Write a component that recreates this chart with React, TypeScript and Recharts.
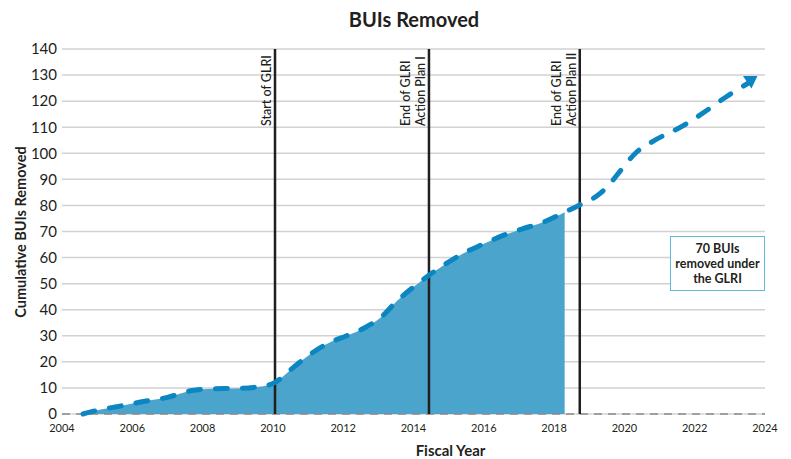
import React from "react";
import {
  ComposedChart,
  Area,
  Line,
  XAxis,
  YAxis,
  CartesianGrid,
  ReferenceLine,
} from "recharts";

// ---- data ----
const years = [
  2004.6, 2005.1, 2005.6, 2006.2, 2007.0, 2007.7, 2008.3, 2008.9, 2009.45, 2010.0,
  2010.55, 2011.05, 2011.6, 2012.1, 2012.6, 2013.05, 2013.55, 2014.0, 2014.42, 2014.85,
  2015.4, 2016.0, 2016.55, 2017.1, 2017.7, 2018.3, 2018.7, 2019.3, 2019.6, 2019.9,
  2020.35, 2020.8, 2021.7, 2022.35, 2022.9, 2023.6,
];
const cumulativeBUIs = [
  0, 1.7, 2.9, 4.5, 6.4, 9.0, 9.7, 9.8, 10.2, 11.7,
  17.5, 22.8, 27.3, 30, 33, 36.8, 43.6, 48.7, 53, 57,
  61.5, 65.3, 68.5, 71, 73.6, 77.4, 80, 84.5, 88.5, 93.5,
  100.5, 104.5, 110.8, 116.5, 121.7, 127.5,
];
const lastReportedYear = 2018.3;

const milestoneYears = [2010.06, 2014.44, 2018.73];
const milestoneLabels = [
  ["Start of GLRI"],
  ["End of GLRI", "Action Plan I"],
  ["End of GLRI", "Action Plan II"],
];

const xTicks = [2004, 2006, 2008, 2010, 2012, 2014, 2016, 2018, 2020, 2022, 2024];
const yTicks = [0, 10, 20, 30, 40, 50, 60, 70, 80, 90, 100, 110, 120, 130, 140];

const titleText = "BUIs Removed";
const xLabel = "Fiscal Year";
const yLabel = "Cumulative BUIs Removed";
const noteLines = ["70 BUIs", "removed under", "the GLRI"];

// ---- derived tables ----
const lineData = years.map((y, i) => ({ year: y, value: cumulativeBUIs[i] }));
const areaData = lineData.filter((d) => d.year <= lastReportedYear);

const FONT = "Lato, 'Open Sans', sans-serif";
const TEXT = "#231f20";
const LINE = "#0b86c2";
const FILL = "#4ba4cc";

const renderDot = (p: any) => {
  if (p.index !== years.length - 1) return <g key={`d${p.index}`} />;
  const { cx, cy } = p;
  return (
    <polygon
      key="tri"
      points={`${cx - 8},${cy - 5.5} ${cx + 6.5},${cy - 5.5} ${cx + 0.5},${cy + 7}`}
      fill={LINE}
    />
  );
};

const milestoneLabel = (lines: string[]) => (props: any) => {
  const vb = props.viewBox || {};
  const lx = vb.x;
  const by = vb.y + 77;
  return (
    <g>
      {lines.map((t, i) => {
        const bx = lx - 4 - (lines.length - 1 - i) * 14.5;
        return (
          <text
            key={i}
            x={bx}
            y={by}
            transform={`rotate(-90 ${bx} ${by})`}
            textAnchor="start"
            fontSize={12.5}
            fontWeight={500}
            fontFamily={FONT}
            fill={TEXT}
          >
            {t}
          </text>
        );
      })}
    </g>
  );
};

const xAxisLabel = (props: any) => {
  const vb = props.viewBox || {};
  return (
    <text
      x={vb.x + vb.width / 2 + 37}
      y={456}
      textAnchor="middle"
      fontSize={15}
      fontWeight={700}
      fontFamily={FONT}
      fill={TEXT}
    >
      {xLabel}
    </text>
  );
};

const yAxisLabel = () => {
  const cy = 232;
  const bx = 26;
  return (
    <text
      x={bx}
      y={cy}
      transform={`rotate(-90 ${bx} ${cy})`}
      textAnchor="middle"
      fontSize={14.5}
      fontWeight={700}
      fontFamily={FONT}
      fill={TEXT}
    >
      {yLabel}
    </text>
  );
};

export default function App() {
  return (
    <div
      style={{
        position: "absolute",
        left: 0,
        top: 0,
        width: 791,
        height: 459,
        background: "#fff",
        fontFamily: FONT,
      }}
    >
      <div
        style={{
          position: "absolute",
          left: 0,
          top: 7,
          width: 828,
          textAlign: "center",
          fontSize: 20,
          fontWeight: 700,
          color: TEXT,
          fontFamily: FONT,
        }}
      >
        {titleText}
      </div>
      <ComposedChart
        width={791}
        height={459}
        margin={{ top: 49, right: 26, bottom: 15, left: 0 }}
      >
        <CartesianGrid
          vertical={false}
          stroke="#d2d2d2"
          strokeWidth={1.5}
        />
        <XAxis
          dataKey="year"
          type="number"
          domain={[2004, 2024]}
          ticks={xTicks}
          allowDataOverflow
          axisLine={false}
          tickLine={false}
          tickSize={4}
          tickMargin={6}
          height={30}
          tick={{ fontSize: 11, fill: TEXT, fontFamily: FONT }}
          label={{ content: xAxisLabel }}
        />
        <YAxis
          type="number"
          domain={[0, 140]}
          ticks={yTicks}
          interval={0}
          axisLine={false}
          tickLine={false}
          tickSize={3}
          tickMargin={2}
          width={62}
          tick={{ fontSize: 15, fill: TEXT, fontFamily: FONT }}
          label={{ content: yAxisLabel }}
        />
        <Area
          data={areaData}
          dataKey="value"
          type="monotone"
          stroke="none"
          fill={FILL}
          fillOpacity={1}
          isAnimationActive={false}
        />
        <ReferenceLine
          y={0}
          stroke="#8a8a8a"
          strokeWidth={1.5}
          strokeDasharray="8 6"
        />
        {milestoneYears.map((yr, i) => (
          <ReferenceLine
            key={yr}
            x={yr}
            stroke="#231f20"
            strokeWidth={2.5}
            label={{ content: milestoneLabel(milestoneLabels[i]) }}
          />
        ))}
        <Line
          data={lineData}
          dataKey="value"
          type="monotone"
          stroke={LINE}
          strokeWidth={5}
          strokeDasharray="12 15"
          strokeLinecap="round"
          dot={renderDot}
          activeDot={false}
          isAnimationActive={false}
        />
      </ComposedChart>
      <div
        style={{
          position: "absolute",
          left: 670,
          top: 236,
          width: 95,
          height: 55,
          boxSizing: "border-box",
          border: "1.5px solid #62b9e0",
          background: "#fff",
          display: "flex",
          flexDirection: "column",
          justifyContent: "center",
          alignItems: "center",
          fontSize: 12.5,
          fontWeight: 700,
          lineHeight: "15px",
          color: TEXT,
          fontFamily: FONT,
          textAlign: "center",
        }}
      >
        {noteLines.map((t) => (
          <div key={t}>{t}</div>
        ))}
      </div>
    </div>
  );
}
